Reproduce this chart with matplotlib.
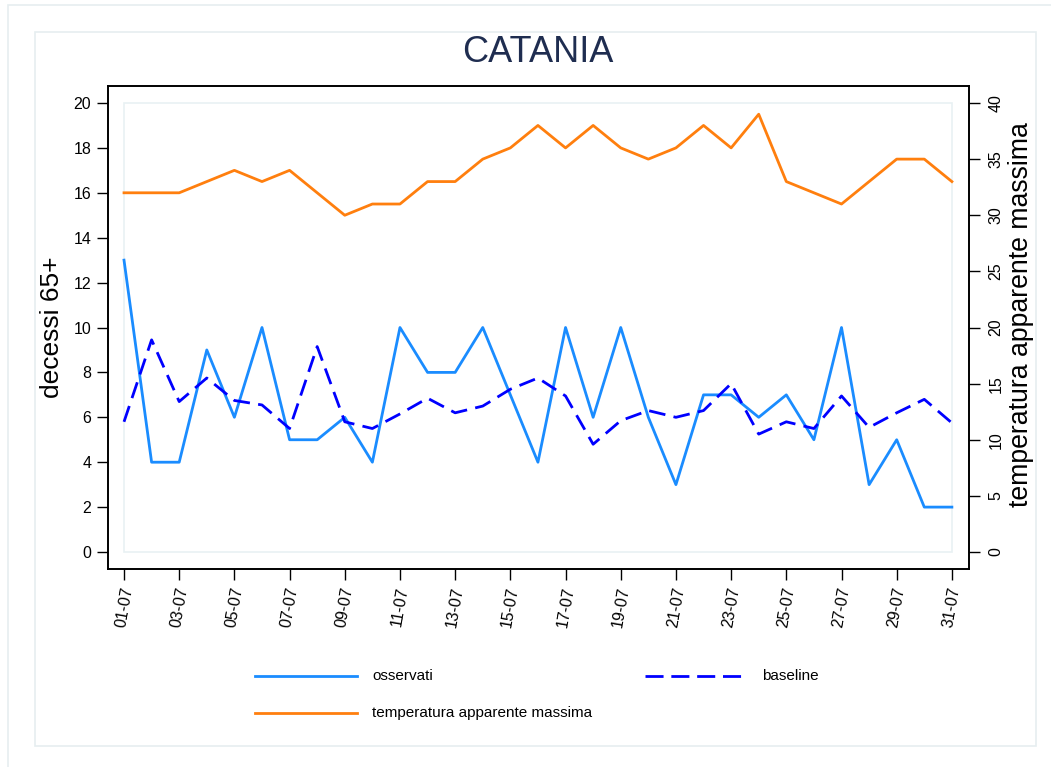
import matplotlib
matplotlib.use('Agg')
import matplotlib.pyplot as plt
from matplotlib.lines import Line2D
from matplotlib.patches import Rectangle

plt.rcParams['font.family'] = ['Liberation Sans', 'DejaVu Sans']

# data
days = list(range(1, 32))
observed = [13, 4, 4, 9, 6, 10, 5, 5, 6, 4, 10, 8, 8, 10, 7, 4,
            10, 6, 10, 6, 3, 7, 7, 6, 7, 5, 10, 3, 5, 2, 2]
baseline = [5.8, 9.45, 6.7, 7.75, 6.75, 6.55, 5.5, 9.15, 5.8, 5.5, 6.15, 6.85, 6.2, 6.5, 7.25, 7.75,
            6.95, 4.8, 5.85, 6.3, 6.0, 6.3, 7.5, 5.25, 5.8, 5.5, 6.95, 5.55, 6.2, 6.8, 5.75]
temperature = [32, 32, 32, 33, 34, 33, 34, 32, 30, 31, 31, 33, 33, 35, 36, 38,
               36, 38, 36, 35, 36, 38, 36, 39, 33, 32, 31, 33, 35, 35, 33]
xtick_days = list(range(1, 32, 2))
xtick_labels = [f'{d:02d}-07' for d in xtick_days]

c_obs = '#1a8cff'
c_base = '#0000ff'
c_temp = '#ff7f0e'
W, H = 1051, 767
LW = 2.0

fig = plt.figure(figsize=(W / 100, H / 100), dpi=100)

# background frames
fig.add_artist(Rectangle((8 / W, -0.05), 1.2, (H - 5) / H + 0.05, transform=fig.transFigure,
                         fill=False, ec='#e6eef0', lw=1.2))
fig.add_artist(Rectangle((35 / W, (H - 746) / H), (1036 - 35) / W, (746 - 32) / H,
                         transform=fig.transFigure, fill=False, ec='#e6eef0', lw=1.2))

ax = fig.add_axes([108 / W, (H - 569) / H, (969 - 108) / W, (569 - 86) / H])
ax.set_xlim(0.42, 31.62)
ax.set_ylim(-0.757, 20.757)
ax.add_patch(Rectangle((1, 0), 30, 20, fill=False, ec='#e9f1f3', lw=1.2, zorder=0))

ax.plot(days, observed, color=c_obs, lw=LW, zorder=3)
ax.plot(days, baseline, color=c_base, lw=LW, dashes=(6, 3), zorder=3)

ax2 = ax.twinx()
ax2.set_ylim(-1.514, 41.514)
ax2.plot(days, temperature, color=c_temp, lw=LW)

ax.set_yticks(range(0, 21, 2))
ax.set_xticks(xtick_days)
ax.set_xticklabels(xtick_labels, rotation=80, ha='center', va='top')
ax.tick_params(axis='both', direction='out', length=8, width=1, labelsize=11.5, pad=4, colors='black')
ax2.set_yticks(range(0, 41, 5))
ax2.set_yticklabels([str(v) for v in range(0, 41, 5)], rotation=90, va='center')
ax2.tick_params(axis='y', direction='out', length=8, width=1, labelsize=11.5, pad=6)

for a in (ax, ax2):
    for s in a.spines.values():
        s.set_linewidth(1.2)
        s.set_color('black')

ax.set_ylabel('decessi 65+', fontsize=19, labelpad=7)
ax2.set_ylabel('temperatura apparente massima', fontsize=19.2)
ax2.yaxis.set_label_coords(1.045, 0.526)

fig.text(538 / W, 1 - 52 / H, 'CATANIA', ha='center', va='center', fontsize=26, color='#1f2d50')

# legend
def leg(x0, y, color, label, dashed=False):
    kw = dict(dashes=(6.5, 2.8)) if dashed else {}
    fig.add_artist(Line2D([x0 / W, (x0 + 102) / W], [1 - y / H, 1 - y / H],
                          transform=fig.transFigure, color=color, lw=LW, **kw))
    fig.text((x0 + 117) / W, 1 - y / H, label, ha='left', va='center', fontsize=11)

leg(255, 676, c_obs, 'osservati')
leg(645, 676, c_base, 'baseline', dashed=True)
leg(255, 713, c_temp, 'temperatura apparente massima')

fig.savefig('out.png', dpi=100)
